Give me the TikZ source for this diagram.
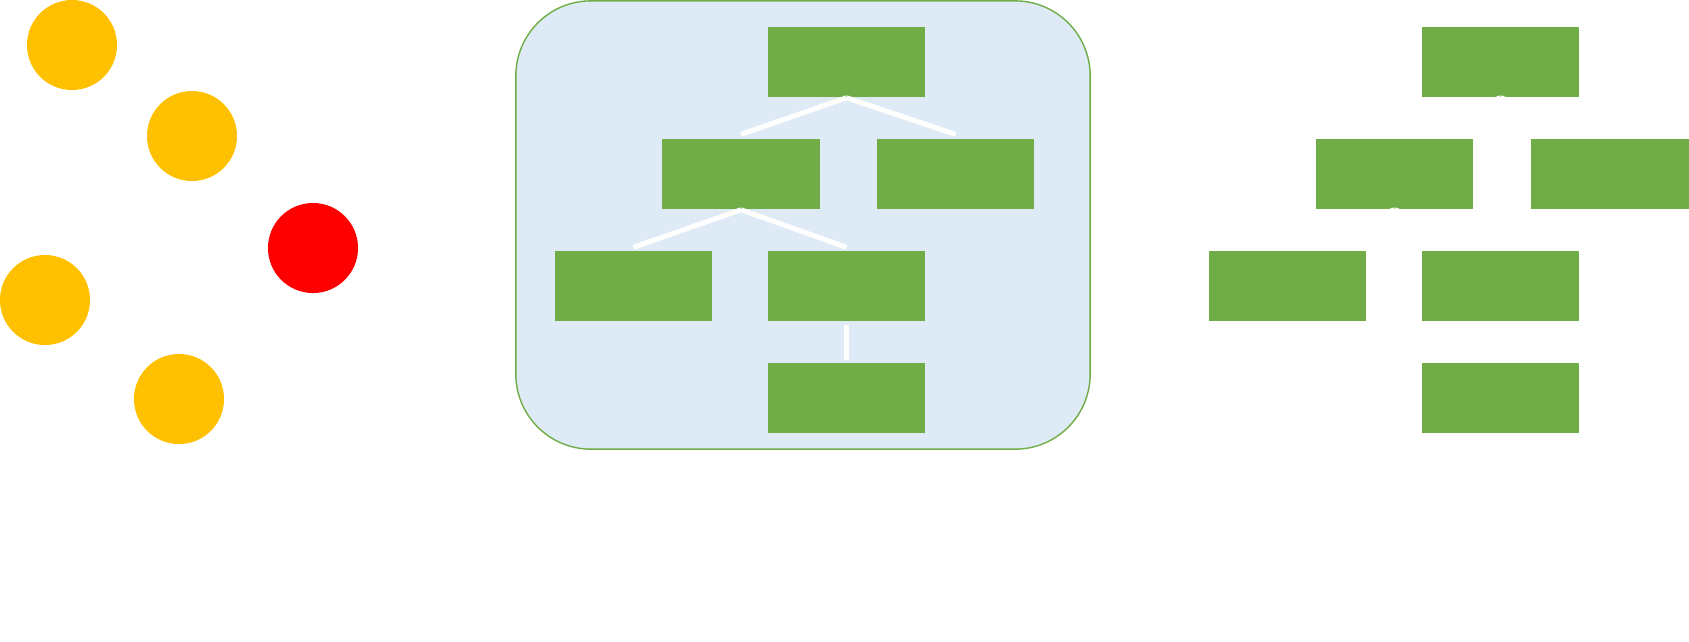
\documentclass[tikz,border=0pt]{standalone}
\definecolor{leafgreen}{RGB}{112, 173, 71}
\definecolor{panelblue}{RGB}{222, 235, 247}
\definecolor{dotyellow}{RGB}{255, 192, 0}
\definecolor{dotred}{RGB}{255, 0, 0}
\usepackage{tikz}
\usetikzlibrary{positioning, calc}

\begin{document}
\begin{tikzpicture}[
  x=0.01cm, y=-0.01cm,
  treebox/.style={fill=leafgreen, minimum width=1.57cm, minimum height=0.70cm, inner sep=0pt},
  dotnode/.style={circle, minimum size=0.9cm, inner sep=0pt},
  branch/.style={draw=white, line width=1.4pt}
]
  \useasboundingbox (0,0) rectangle (1689,641);

  % Scattered points
  \node[dotnode, fill=dotyellow] (pa) at (72, 45) {};
  \node[dotnode, fill=dotyellow] (pb) at (192, 136) {};
  \node[dotnode, fill=dotred]    (pc) at (313, 248) {};
  \node[dotnode, fill=dotyellow] (pd) at (45, 300) {};
  \node[dotnode, fill=dotyellow] (pe) at (179, 399) {};

  % Panel with the tree
  \node[draw=leafgreen, fill=panelblue, rounded corners=0.75cm, line width=0.4pt,
        minimum width=5.74cm, minimum height=4.48cm, inner sep=0pt] (panel) at (803, 225) {};

  \node[treebox] (ltop)   at (846.5, 62) {};
  \node[treebox] (lleft)  at (741, 174) {};
  \node[treebox] (lright) at (955.5, 174) {};
  \node[treebox] (lleaf)  at (633.5, 286) {};
  \node[treebox] (lmid)   at (846.5, 286) {};
  \node[treebox] (lbot)   at (846.5, 398) {};

  \draw[branch] (ltop.south) -- ($(lleft.north)+(0,-4)$);
  \draw[branch] (ltop.south) -- ($(lright.north)+(0,-4)$);
  \draw[branch] (lleft.south) -- ($(lleaf.north)+(0,-3)$);
  \draw[branch] (lleft.south) -- ($(lmid.north)+(0,-3)$);
  \draw[branch] ($(lmid.south)+(0,3)$) -- ($(lbot.north)+(0,-2)$);

  % Same tree, no panel
  \node[treebox] (rtop)   at (1500.5, 62) {};
  \node[treebox] (rleft)  at (1394.5, 174) {};
  \node[treebox] (rright) at (1610, 174) {};
  \node[treebox] (rleaf)  at (1287.5, 286) {};
  \node[treebox] (rmid)   at (1500.5, 286) {};
  \node[treebox] (rbot)   at (1500.5, 398) {};

  \draw[branch] (rtop.south) -- ($(rleft.north)+(0,-4)$);
  \draw[branch] (rtop.south) -- ($(rright.north)+(0,-4)$);
  \draw[branch] (rleft.south) -- ($(rleaf.north)+(0,-3)$);
  \draw[branch] (rleft.south) -- ($(rmid.north)+(0,-3)$);
  \draw[branch] ($(rmid.south)+(0,3)$) -- ($(rbot.north)+(0,-2)$);
\end{tikzpicture}
\end{document}
